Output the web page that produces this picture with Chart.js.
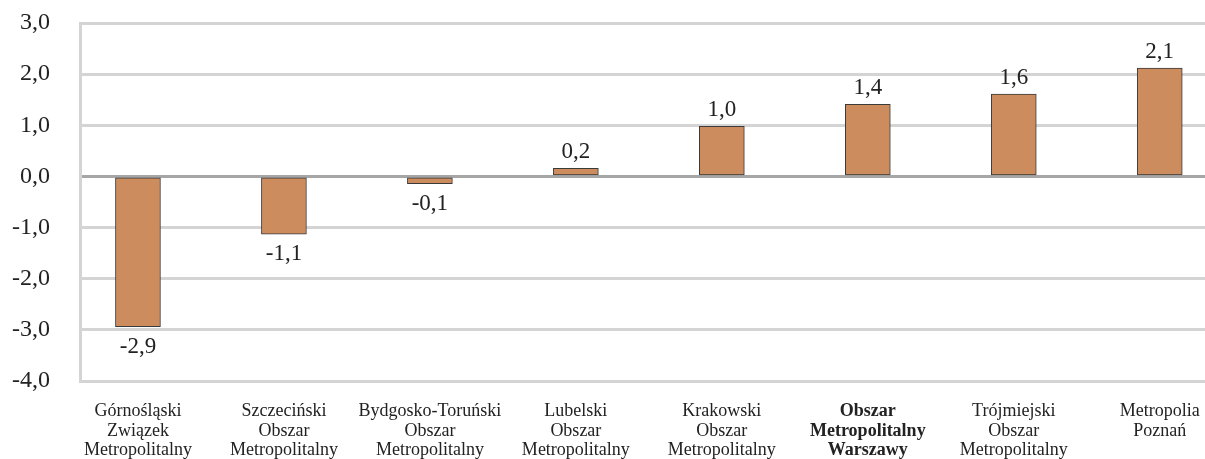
<!DOCTYPE html>
<html>
<head>
<meta charset="utf-8">
<script src="https://cdn.jsdelivr.net/npm/chart.js@4"></script>
<style>
  html, body { margin: 0; padding: 0; background: #fff; overflow: hidden; }
  #wrap { width: 1205px; height: 459px; }
</style>
</head>
<body>
<div id="wrap"><canvas id="chart"></canvas></div>
<script>
const categories = [
  ['Górnośląski', 'Związek', 'Metropolitalny'],
  ['Szczeciński', 'Obszar', 'Metropolitalny'],
  ['Bydgosko-Toruński', 'Obszar', 'Metropolitalny'],
  ['Lubelski', 'Obszar', 'Metropolitalny'],
  ['Krakowski', 'Obszar', 'Metropolitalny'],
  ['Obszar', 'Metropolitalny', 'Warszawy'],
  ['Trójmiejski', 'Obszar', 'Metropolitalny'],
  ['Metropolia', 'Poznań'],
]
const values = [-2.94, -1.13, -0.14, 0.16, 0.98, 1.41, 1.61, 2.12]
const highlightIndex = 5
const yTicks = [-4, -3, -2, -1, 0, 1, 2, 3]

const fmt = v => v.toFixed(1).replace('.', ',').replace('-0,0', '0,0')
const serif = '"Liberation Serif", "Times New Roman", serif'

// value labels above / below each bar
const valueLabels = {
  id: 'valueLabels',
  afterDatasetsDraw(chart) {
    const { ctx } = chart
    const meta = chart.getDatasetMeta(0)
    ctx.save()
    ctx.font = `23px ${serif}`
    ctx.fillStyle = '#222'
    ctx.textAlign = 'center'
    ctx.textBaseline = 'middle'
    meta.data.forEach((bar, i) => {
      const v = values[i]
      const y = v >= 0 ? bar.y - 16 : bar.y + 20
      ctx.fillText(fmt(v), bar.x, y)
    })
    ctx.restore()
  }
}

new Chart(document.getElementById('chart'), {
  type: 'bar',
  data: {
    datasets: [{
      data: values.map((v, i) => ({ x: i, y: v })),
      backgroundColor: '#CC8C5E',
      borderColor: '#3a3a3a',
      borderWidth: 1,
      borderSkipped: false,
      barThickness: 45,
    }]
  },
  options: {
    responsive: true,
    maintainAspectRatio: false,
    animation: false,
    layout: { padding: { top: 23, left: 0, right: 0, bottom: 0 } },
    plugins: {
      legend: { display: false },
      tooltip: { enabled: false },
    },
    scales: {
      x: {
        type: 'linear',
        offset: false,
        min: -0.397,
        max: 7.31,
        grid: { display: false },
        border: { display: false },
        afterBuildTicks: scale => { scale.ticks = categories.map((_, i) => ({ value: i })) },
        afterFit: scale => {
          scale.height = 78
          scale.paddingLeft = 0
          scale.paddingRight = 0
        },
        ticks: {
          autoSkip: false,
          maxRotation: 0,
          padding: 13,
          color: '#222',
          font: ctx => ({ family: serif, size: 18, lineHeight: 1.08, weight: ctx.index === highlightIndex ? 'bold' : 'normal' }),
          callback: (value, index) => categories[index],
        }
      },
      y: {
        min: -4,
        max: 3,
        afterBuildTicks: scale => { scale.ticks = yTicks.map(v => ({ value: v })) },
        afterFit: scale => {
          scale.width = 80
          scale.paddingTop = 0
          scale.paddingBottom = 0
        },
        grid: {
          drawTicks: false,
          lineWidth: 3,
          color: ctx => ctx.tick && ctx.tick.value === 0 ? '#a6a6a6' : '#d4d4d4',
        },
        border: { display: true, color: '#d4d4d4', width: 3 },
        ticks: {
          padding: 30,
          color: '#222',
          font: { family: serif, size: 24 },
          callback: v => fmt(v),
        }
      }
    }
  },
  plugins: [valueLabels]
})
</script>
</body>
</html>
